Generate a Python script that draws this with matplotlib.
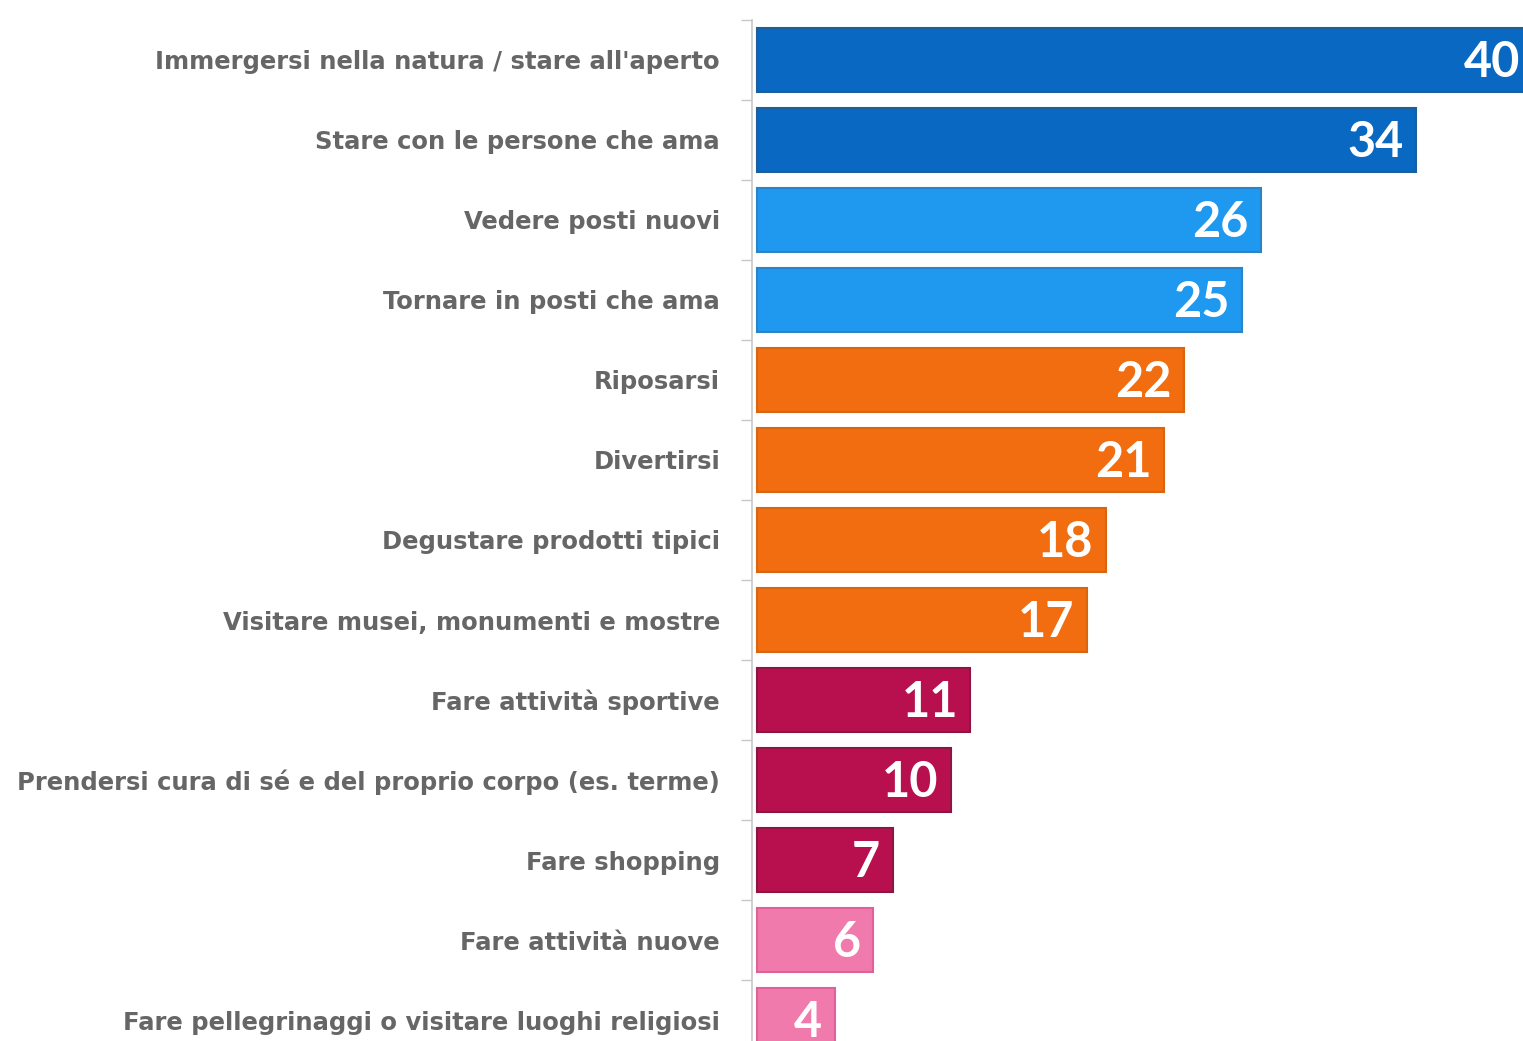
import matplotlib
matplotlib.use("Agg")
import matplotlib.pyplot as plt
import numpy as np

# dati
voci = [
    "Immergersi nella natura / stare all'aperto",
    "Stare con le persone che ama",
    "Vedere posti nuovi",
    "Tornare in posti che ama",
    "Riposarsi",
    "Divertirsi",
    "Degustare prodotti tipici",
    "Visitare musei, monumenti e mostre",
    "Fare attività sportive",
    "Prendersi cura di sé e del proprio corpo (es. terme)",
    "Fare shopping",
    "Fare attività nuove",
    "Fare pellegrinaggi o visitare luoghi religiosi",
]
valori = [40, 34, 26, 25, 22, 21, 18, 17, 11, 10, 7, 6, 4]
gruppi = [0, 0, 1, 1, 2, 2, 2, 2, 3, 3, 3, 4, 4]

colori = ["#0868C2", "#1F98F0", "#F26C10", "#B8104F", "#F07AAC"]
bordi = ["#1F5E96", "#2B84C8", "#D9650F", "#8E1442", "#E0609A"]

fig = plt.figure(figsize=(15.23, 10.41), dpi=100)
ax = fig.add_axes([0.4938, 0.0, 0.5062, 0.981])

y = np.arange(len(voci))
ax.barh(y, valori, height=0.8,
        color=[colori[g] for g in gruppi],
        edgecolor=[bordi[g] for g in gruppi], linewidth=1.5, zorder=2)

for yi, v in zip(y, valori):
    ax.annotate(str(v), xy=(v, yi), xytext=(-9, -2), textcoords='offset points',
                ha='right', va='center', color='white', fontsize=35,
                fontweight='bold', family='Lato', zorder=3,
                annotation_clip=False)

# etichette delle categorie
ax.set_yticks(y)
ax.set_yticklabels(voci, fontsize=17.5, color='#666666',
                   family='DejaVu Sans', fontweight='bold')
ax.tick_params(axis='y', which='major', length=0, pad=23)
ax.set_yticks(np.arange(-0.5, len(voci), 1), minor=True)
ax.tick_params(axis='y', which='minor', length=8, color='#c8c8c8', width=1)
ax.set_xticks([])

ax.set_xlim(-0.26, 39.5)
ax.set_ylim(12.26, -0.5)

for s in ['top', 'right', 'bottom']:
    ax.spines[s].set_visible(False)
ax.spines['left'].set_color('#c8c8c8')
ax.spines['left'].set_linewidth(1.2)

fig.savefig("out.png", dpi=100)
